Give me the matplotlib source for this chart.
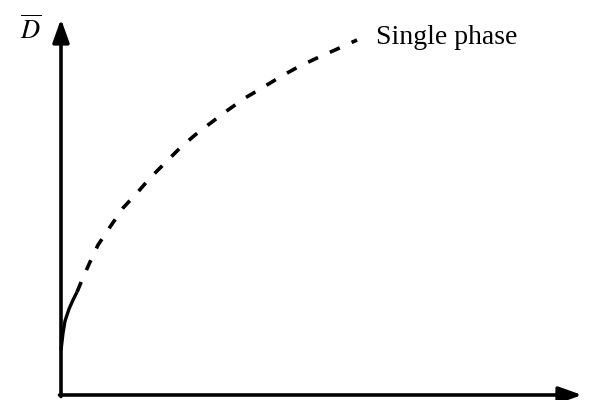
import matplotlib
matplotlib.use("Agg")
import matplotlib.pyplot as plt

# growth curve, solid near the origin then dashed (single phase)
x_solid = [0, 2, 4, 8, 12, 16]
d_solid = [45, 62, 74, 86, 95, 103]
x_dash = [16, 21, 29, 37, 49, 62, 76, 89, 104, 119, 134, 151, 167, 184, 201, 219, 237, 256, 274, 296]
d_dash = [103, 115, 133, 150, 168, 187, 202, 217, 232, 247, 260, 273, 285, 297, 307, 318, 328, 337, 345, 355]

fig = plt.figure(figsize=(5.89, 4.0), dpi=100)
ax = fig.add_axes([0, 0, 1, 1])
ax.set_xlim(-61, 528)
ax.set_ylim(-5, 395)
ax.axis("off")

# axes drawn as arrows
arrow = dict(arrowstyle="-|>,head_length=1.4,head_width=0.5", color="black", lw=2.6,
             shrinkA=0, shrinkB=0)
ax.annotate("", xy=(0, 376), xytext=(0, -1.5), arrowprops=arrow)
ax.annotate("", xy=(521, 0), xytext=(-1.5, 0), arrowprops=arrow)

ax.plot(x_solid, d_solid, color="black", lw=2.4, solid_capstyle="butt")
ax.plot(x_dash, d_dash, color="black", lw=2.6, linestyle=(0, (3.0, 3.6)))

ax.text(-30, 365, r"$\overline{D}$", fontsize=19, ha="center", va="center",
        math_fontfamily="stix")
ax.text(315, 357, "Single phase", fontsize=20, family="Liberation Serif",
        ha="left", va="center")

fig.savefig("out.png", dpi=100)
